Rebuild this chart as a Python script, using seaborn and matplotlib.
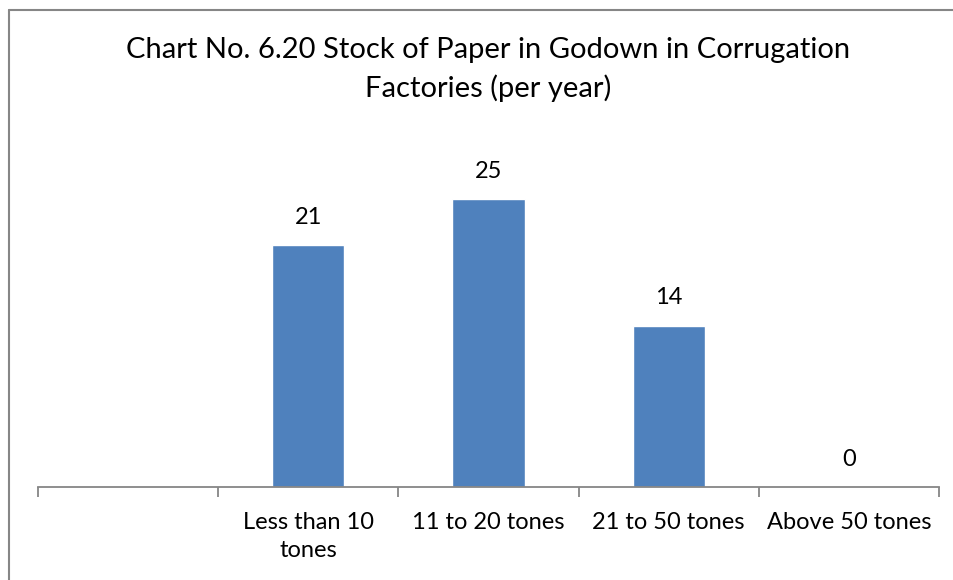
import matplotlib
matplotlib.use("Agg")
import matplotlib.pyplot as plt
from matplotlib.lines import Line2D
import seaborn as sns
import pandas as pd
import numpy as np

# Survey categories (first slot is an unlabeled empty category)
categories = ["", "Less than 10\ntones", "11 to 20 tones", "21 to 50 tones", "Above 50 tones"]
values = [np.nan, 21, 25, 14, 0]
title = "Chart No. 6.20 Stock of Paper in Godown in Corrugation\nFactories (per year)"

sns.set_theme(style="white")
plt.rcParams["font.family"] = ["Lato", "DejaVu Sans"]

df = pd.DataFrame({"category": categories, "value": values})

fig = plt.figure(figsize=(9.54, 5.8), dpi=100)
ax = fig.add_axes([38 / 954, 93 / 580, 901 / 954, (487 - 141.4) / 580])

sns.barplot(data=df, x="category", y="value", order=categories,
            color="#4F81BD", saturation=1, width=0.4, ax=ax)
ax.set_ylim(0, 30)
ax.set_xlim(-0.5, len(categories) - 0.5)

# Value labels above bars
for i, v in enumerate(values):
    if not np.isnan(v):
        ax.text(i, v + 1.5, f"{v:g}", ha="center", va="bottom",
                fontsize=17, color="black")

# Category axis with ticks between categories
for s in ["top", "right", "left"]:
    ax.spines[s].set_visible(False)
ax.spines["bottom"].set_color("#868686")
ax.spines["bottom"].set_linewidth(1.3)
ax.set_xticks(np.arange(-0.5, len(categories), 1.0), minor=True)
ax.set_xticks(range(len(categories)))
ax.set_xticklabels(categories, fontsize=17, color="black", linespacing=1.4)
ax.tick_params(axis="x", which="major", length=0, pad=18)
ax.tick_params(axis="x", which="minor", length=7, width=1.3, color="#868686", bottom=True)
ax.set_yticks([])
ax.set_xlabel("")
ax.set_ylabel("")

fig.text(488 / 954, 1 - 37 / 580, title, ha="center", va="top",
         fontsize=21, color="black", linespacing=1.5)

# Chart frame (left and top edges)
fig.add_artist(Line2D([9.5 / 954, 9.5 / 954], [0, 1 - 10 / 580],
                      transform=fig.transFigure, color="#868686", lw=1.5))
fig.add_artist(Line2D([9.5 / 954, 1], [1 - 10 / 580, 1 - 10 / 580],
                      transform=fig.transFigure, color="#868686", lw=1.5))

fig.savefig("out.png", dpi=100)
